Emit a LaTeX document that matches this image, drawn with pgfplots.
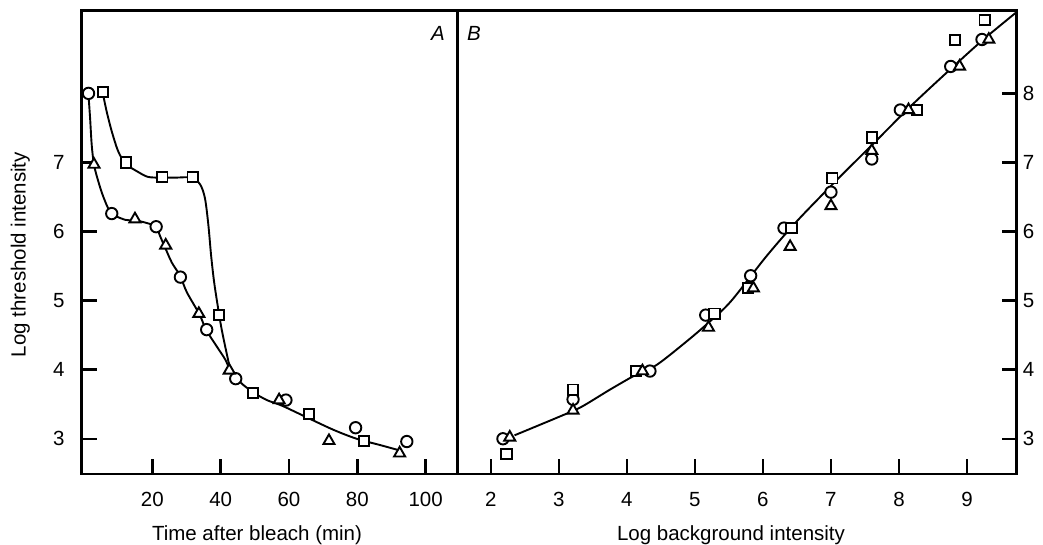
\documentclass[border=0pt]{standalone}
\usepackage{pgfplots}
\pgfplotsset{compat=1.18}
\usepackage{fontspec}
\setmainfont{Liberation Sans}
\begin{document}
\begin{tikzpicture}[x=1pt,y=1pt]
\useasboundingbox (0,0) rectangle (1043,545);
\fill[white] (0,0) rectangle (1043,545);
\pgfplotsset{
  common/.style={
    scale only axis,
    axis line style={line width=2.6pt, black},
    tick align=inside,
    major tick length=15pt,
    every tick/.style={black, line width=2.4pt},
    tick label style={font=\fontsize{20.5}{24}\selectfont, inner sep=0pt, black},
    /pgf/number format/assume math mode=true,
    ymin=2.49, ymax=9.2,
    height=463.5pt,
    xtick pos=left, xticklabel pos=left,
    xticklabel style={yshift=-17.7pt},
    clip=false,
  },
  crv/.style={no marks, smooth, tension=0.5, line width=1.9pt, black},
  circ/.style={only marks, mark=*, mark size=5.7pt, mark options={fill=white, draw=black, line width=1.9pt}},
  sq/.style={only marks, mark=square*, mark size=5.2pt, mark options={fill=white, draw=black, line width=1.9pt}},
  tri/.style={only marks, mark=triangle*, mark size=6.4pt, mark options={fill=white, draw=black, line width=1.9pt}},
}
% Panel A
\begin{axis}[common,
  at={(81.7pt,71pt)}, anchor=south west,
  width=376pt,
  xmin=-0.7, xmax=109.4,
  xtick={20,40,60,80,100},
  ytick={3,4,5,6,7},
  ytick pos=left, yticklabel pos=left,
  yticklabel style={xshift=-17pt},
]
\addplot[crv] coordinates {(1.27,7.99) (1.76,7.64) (2.24,7.25) (2.93,6.96) (4.2,6.72) (5.66,6.5) (7.9,6.27) (12.0,6.17) (14.9,6.16) (17.9,6.13) (21.1,6.07) (22.2,5.94) (23.7,5.77) (25.7,5.55) (28.1,5.36) (30.1,5.12) (33.8,4.80) (35.7,4.58) (38.8,4.34) (41.3,4.15) (42.7,4.0) (44.5,3.88) (46.6,3.78) (49.6,3.67) (53.5,3.56) (57.9,3.48) (65.2,3.31) (73.0,3.13) (79.8,3.0) (86.6,2.91) (92.5,2.83)};
\addplot[crv] coordinates {(5.5,8.0) (6.6,7.74) (8.1,7.45) (10.0,7.16) (12.2,6.98) (15.9,6.86) (18.8,6.79) (22.9,6.78) (26.6,6.78) (31.5,6.78) (34.0,6.68) (35.4,6.48) (36.4,6.09) (37.2,5.65) (38.1,5.26) (39.5,4.81) (40.3,4.58) (41.3,4.34) (42.7,4.02)};
\addplot[circ] coordinates {(1.3,8.0) (8.1,6.26) (21.1,6.07) (28.2,5.34) (35.9,4.58) (44.4,3.87) (59.1,3.56) (79.5,3.16) (94.5,2.96)};
\addplot[sq] coordinates {(5.6,8.02) (12.2,7.0) (22.9,6.79) (31.8,6.79) (39.5,4.79) (49.5,3.66) (65.8,3.36) (82.0,2.97)};
\addplot[tri] coordinates {(2.9,6.97) (14.9,6.18) (23.9,5.80) (33.6,4.81) (42.5,3.99) (57.1,3.56) (71.7,2.97) (92.4,2.79)};
\end{axis}
% Panel B
\begin{axis}[common,
  at={(457.7pt,71pt)}, anchor=south west,
  width=559pt,
  xmin=1.515, xmax=9.73,
  xtick={2,3,4,5,6,7,8,9},
  ytick={3,4,5,6,7,8},
  ytick pos=right, yticklabel pos=right,
  yticklabel style={xshift=6pt},
]
\addplot[crv] coordinates {(2.35,3.05) (3.01,3.32) (3.33,3.46) (3.75,3.71) (4.14,3.93) (4.44,4.07) (4.88,4.41) (5.2,4.68) (5.53,4.99) (6.05,5.64) (6.5,6.15) (7.03,6.69) (7.62,7.27) (8.21,7.85) (8.8,8.39) (9.24,8.78) (9.72,9.17)};
\addplot[circ] coordinates {(2.18,3.0) (3.21,3.57) (4.34,3.98) (5.16,4.79) (5.82,5.36) (6.31,6.05) (7.0,6.57) (7.6,7.05) (8.02,7.76) (8.76,8.39) (9.22,8.78)};
\addplot[sq] coordinates {(2.23,2.78) (3.21,3.71) (4.14,3.98) (5.29,4.81) (5.78,5.18) (6.42,6.05) (7.02,6.77) (7.6,7.36) (8.26,7.76) (8.82,8.77) (9.26,9.06)};
\addplot[tri] coordinates {(2.28,3.02) (3.21,3.41) (4.23,3.98) (5.2,4.61) (5.86,5.18) (6.4,5.78) (7.0,6.37) (7.6,7.17) (8.14,7.76) (8.89,8.39) (9.32,8.78)};
\end{axis}
\node[font=\fontsize{20.5}{24}\selectfont\itshape] at (438,512) {A};
\node[font=\fontsize{20.5}{24}\selectfont\itshape] at (474,512) {B};
\node[font=\fontsize{20.5}{24}\selectfont, anchor=base, inner sep=0pt] at (257,4.5) {Time after bleach (min)};
\node[font=\fontsize{20.5}{24}\selectfont, anchor=base, inner sep=0pt] at (731,4.5) {Log background intensity};
\node[font=\fontsize{20.5}{24}\selectfont, anchor=base, inner sep=0pt, rotate=90] at (25.5,290.4) {Log threshold intensity};
\end{tikzpicture}
\end{document}
